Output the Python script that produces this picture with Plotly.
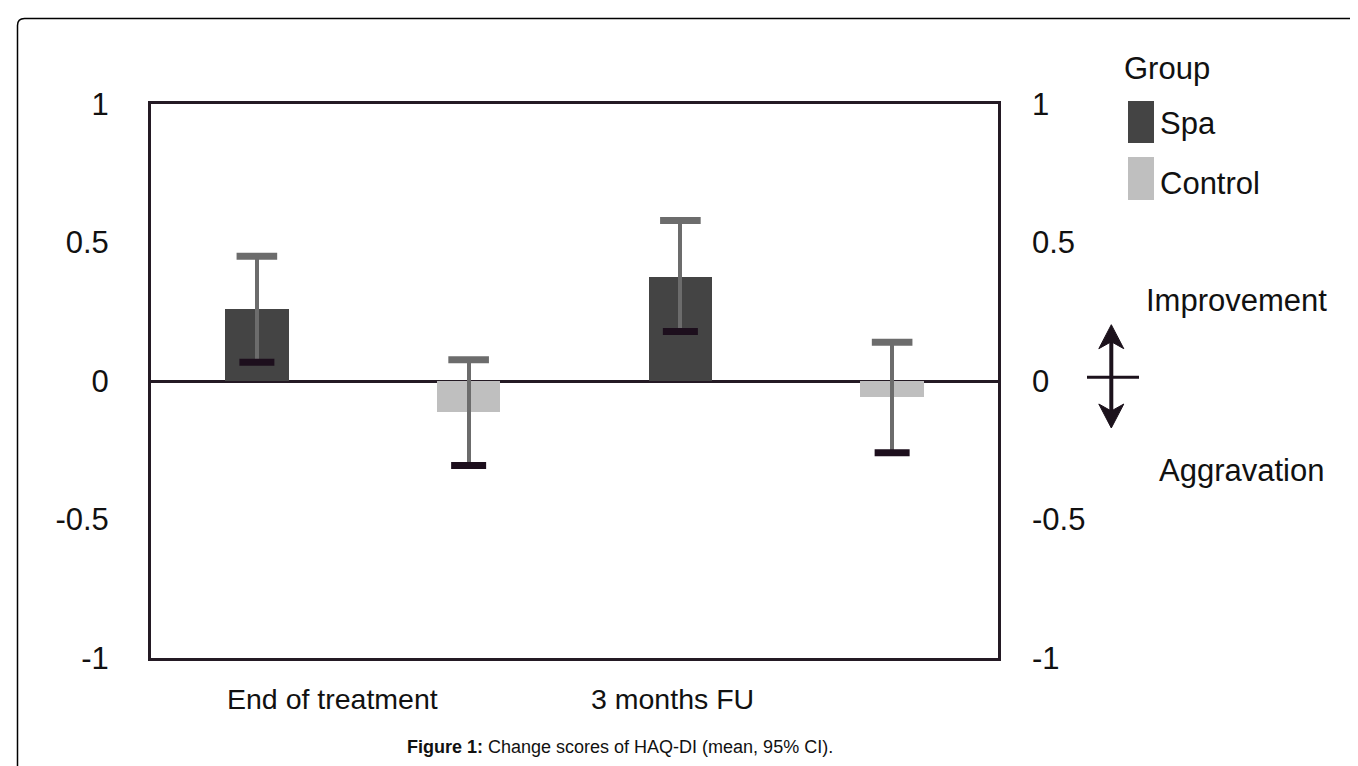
import plotly.graph_objects as go

# ---------------- data ----------------
timepoints = ["End of treatment", "3 months FU"]
groups = ["Spa", "Control"]
spa_mean = [0.26, 0.377]
spa_ci_low = [0.068, 0.179]
spa_ci_high = [0.45, 0.579]
ctrl_mean = [-0.113, -0.059]
ctrl_ci_low = [-0.305, -0.259]
ctrl_ci_high = [0.077, 0.14]
y_tickvals = [-1, -0.5, 0, 0.5, 1]
y_ticktext = ["-1", "-0.5", "0", "0.5", "1"]

# ---------------- style ----------------
W, H = 1358, 766
L, R, T, B = 143, 990, 96, 650          # plot area in pixels
FONT = "Liberation Sans, Arial, sans-serif"
TXT = "#111111"
SPA_C = "#444444"
CTRL_C = "#bfbfbf"
ERR_C = "#6c6c6c"
LOWCAP_C = "#1d0f1d"
BORDER_C = "#241a24"
BIG = 31

def px(x):
    return (x - L) / (R - L)

def py(y):
    return (B - y) / (B - T)

# bar positions: each timepoint has two slots (Spa, Control)
spa_x = [2 * i + 0.5 for i in range(len(timepoints))]
ctrl_x = [2 * i + 1.5 for i in range(len(timepoints))]

fig = go.Figure()

def add_group(xs, mean, lo, hi, color, name):
    fig.add_trace(go.Bar(
        x=xs, y=mean, width=0.3, name=name, marker=dict(color=color, line_width=0),
        error_y=dict(type="data", symmetric=False,
                     array=[h - m for h, m in zip(hi, mean)],
                     arrayminus=[m - l for m, l in zip(mean, lo)],
                     color=ERR_C, thickness=4, width=0),
        showlegend=False, hoverinfo="skip"))
    # upper caps
    fig.add_trace(go.Scatter(
        x=xs, y=hi, mode="markers", showlegend=False, hoverinfo="skip",
        marker=dict(symbol="line-ew", size=29, line=dict(width=7, color=ERR_C))))
    # lower caps
    fig.add_trace(go.Scatter(
        x=xs, y=lo, mode="markers", showlegend=False, hoverinfo="skip",
        marker=dict(symbol="line-ew", size=25, line=dict(width=7, color=LOWCAP_C))))

add_group(spa_x, spa_mean, spa_ci_low, spa_ci_high, SPA_C, groups[0])
add_group(ctrl_x, ctrl_mean, ctrl_ci_low, ctrl_ci_high, CTRL_C, groups[1])

# invisible trace so the right-hand axis is drawn
fig.add_trace(go.Scatter(x=[spa_x[0]], y=[0], yaxis="y2", mode="markers",
                         marker=dict(opacity=0), showlegend=False, hoverinfo="skip"))

fig.update_layout(
    width=W, height=H,
    margin=dict(l=L, r=W - R, t=T, b=H - B, pad=0),
    paper_bgcolor="white", plot_bgcolor="white",
    font=dict(family=FONT, size=BIG, color=TXT),
    bargap=0,
    xaxis=dict(range=[0, 4], showticklabels=False, showgrid=False, zeroline=False,
               showline=True, linecolor=BORDER_C, linewidth=3, mirror=True, ticks=""),
    yaxis=dict(range=[-1, 1], tickvals=y_tickvals, ticktext=y_ticktext, showgrid=False,
               zeroline=True, zerolinecolor=BORDER_C, zerolinewidth=3,
               showline=True, linecolor=BORDER_C, linewidth=3, mirror=True,
               ticks="", ticklabelstandoff=33, tickfont=dict(size=BIG)),
    yaxis2=dict(range=[-1, 1], overlaying="y", side="right", tickvals=y_tickvals,
                ticktext=y_ticktext, showgrid=False, zeroline=False, showline=False,
                ticks="", ticklabelstandoff=33, tickfont=dict(size=BIG)),
)

ann = []
# category labels
cat_centers = [324, 664]
for lab, cx in zip(timepoints, cat_centers):
    ann.append(dict(x=px(cx), y=py(691), xref="paper", yref="paper", text=lab,
                    showarrow=False, xanchor="center", yanchor="middle",
                    font=dict(size=28.5, color=TXT)))
# legend
ann.append(dict(x=px(1114), y=py(61), xref="paper", yref="paper", text="Group",
                showarrow=False, xanchor="left", yanchor="middle", font=dict(size=BIG)))
ann.append(dict(x=px(1150), y=py(115), xref="paper", yref="paper", text=groups[0],
                showarrow=False, xanchor="left", yanchor="middle", font=dict(size=BIG)))
ann.append(dict(x=px(1150), y=py(175), xref="paper", yref="paper", text=groups[1],
                showarrow=False, xanchor="left", yanchor="middle", font=dict(size=BIG)))
# direction labels
ann.append(dict(x=px(1136), y=py(292), xref="paper", yref="paper", text="Improvement",
                showarrow=False, xanchor="left", yanchor="middle", font=dict(size=BIG)))
ann.append(dict(x=px(1149), y=py(462), xref="paper", yref="paper", text="Aggravation",
                showarrow=False, xanchor="left", yanchor="middle", font=dict(size=BIG)))
# caption
ann.append(dict(x=px(612), y=py(739), xref="paper", yref="paper",
                text="<b>Figure 1:</b> Change scores of HAQ-DI (mean, 95% CI).",
                showarrow=False, xanchor="center", yanchor="middle",
                font=dict(size=18, color=TXT)))
fig.update_layout(annotations=ann)

shapes = []
# legend swatches
shapes.append(dict(type="rect", xref="paper", yref="paper", x0=px(1120), x1=px(1146),
                   y0=py(135), y1=py(93), fillcolor=SPA_C, line_width=0))
shapes.append(dict(type="rect", xref="paper", yref="paper", x0=px(1120), x1=px(1146),
                   y0=py(192), y1=py(149), fillcolor=CTRL_C, line_width=0))
# outer frame (rounded top-left corner)
r = 7
fx, fy = 9.5, 10.5
path = (f"M {px(fx)} {py(H + 5)} L {px(fx)} {py(fy + r)} "
        f"Q {px(fx)} {py(fy)} {px(fx + r)} {py(fy)} L {px(W + 5)} {py(fy)}")
shapes.append(dict(type="path", xref="paper", yref="paper", path=path,
                   line=dict(color="#000000", width=1.5)))
# double arrow
ax = 1103.3
ARW = "#1c121c"
shapes.append(dict(type="line", xref="paper", yref="paper", x0=px(ax), x1=px(ax),
                   y0=py(330), y1=py(407), line=dict(color=ARW, width=4)))
shapes.append(dict(type="line", xref="paper", yref="paper", x0=px(1079), x1=px(1131),
                   y0=py(369.3), y1=py(369.3), line=dict(color=ARW, width=3)))
def head(tip_y, d):
    pts = [(ax, tip_y), (ax + 12.5, tip_y + d * 24), (ax, tip_y + d * 17),
           (ax - 12.5, tip_y + d * 24)]
    p = "M " + " L ".join(f"{px(x)} {py(y)}" for x, y in pts) + " Z"
    return dict(type="path", xref="paper", yref="paper", path=p, fillcolor=ARW,
                line=dict(color=ARW, width=1))
shapes.append(head(316.7, 1))
shapes.append(head(420.0, -1))
fig.update_layout(shapes=shapes)

fig.write_html("out.html")
